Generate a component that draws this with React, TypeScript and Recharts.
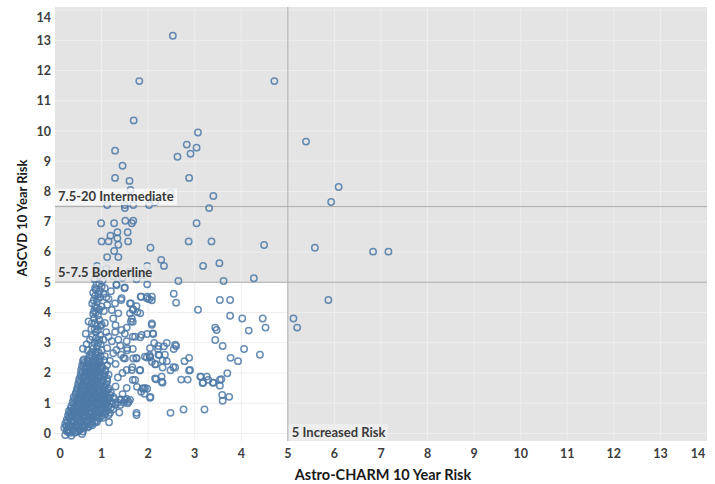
import React from "react";
import {
  ScatterChart, Scatter, XAxis, YAxis, ReferenceArea, ReferenceLine, Label,
} from "recharts";

const xTicks = [0, 1, 2, 3, 4, 5, 6, 7, 8, 9, 10, 11, 12, 13, 14];
const yTicks = [0, 1, 2, 3, 4, 5, 6, 7, 8, 9, 10, 11, 12, 13, 14];

// risk zone thresholds
const borderlineY = 5;
const intermediateY = 7.5;
const increasedX = 5;
const zoneLabelText = ["7.5-20 Intermediate", "5-7.5 Borderline", "5 Increased Risk"];

// [astroCharm, ascvd]
const intermediatePoints = [
  [2.53, 13.15], [1.81, 11.65], [4.71, 11.65], [1.69, 10.35], [3.07, 9.95], [5.39, 9.65],
  [2.83, 9.55], [3.04, 9.45], [1.29, 9.35], [2.91, 9.25], [2.63, 9.15], [1.45, 8.85],
  [1.29, 8.45], [2.88, 8.45], [1.6, 8.35], [6.09, 8.15], [1.62, 8.05], [2.48, 7.95],
  [3.4, 7.85], [5.93, 7.65], [1.12, 7.55], [2.02, 7.55], [1.5, 7.55], [1.5, 7.45],
  [1.68, 7.55], [2.15, 7.65], [3.31, 7.45],
];

const borderlinePoints = [
  [0.99, 6.95], [1.27, 6.95], [1.51, 7.03], [1.68, 7.03], [1.65, 6.95], [3.04, 6.95],
  [1.34, 6.65], [1.56, 6.65], [1.19, 6.54], [1.0, 6.35], [1.15, 6.35], [1.34, 6.45],
  [1.57, 6.35], [2.87, 6.35], [3.36, 6.35], [1.36, 6.24], [2.05, 6.14], [4.49, 6.23],
  [5.58, 6.14], [6.83, 6.01], [7.16, 6.01], [1.27, 6.03], [1.12, 5.83], [1.36, 5.83],
  [2.28, 5.74], [2.34, 5.54], [3.18, 5.54], [3.53, 5.63], [0.9, 5.54], [1.98, 5.54],
  [4.27, 5.13], [2.65, 5.04], [3.62, 5.04], [0.92, 5.3], [1.1, 5.45], [1.25, 5.2],
  [1.45, 5.15], [1.6, 5.35], [1.75, 5.1], [1.9, 5.25], [0.85, 5.1], [1.02, 5.05],
];

const increasedPoints = [[5.12, 3.8], [5.2, 3.5], [5.87, 4.41]];

const spreadPoints = [
  [1.32, 4.93], [1.5, 4.83], [1.98, 4.93], [1.84, 4.52], [1.98, 4.52], [2.02, 4.44],
  [2.08, 4.4], [1.42, 4.41], [1.63, 4.3], [1.75, 4.21], [1.67, 4.09], [1.77, 4.01],
  [2.55, 4.62], [2.6, 4.32], [3.54, 4.41], [3.76, 4.41], [3.07, 4.09], [3.76, 3.89],
  [4.02, 3.8], [4.46, 3.8], [4.52, 3.5], [3.44, 3.5], [3.47, 3.42], [4.16, 3.4],
  [3.44, 3.09], [3.6, 2.89], [4.06, 2.79], [4.4, 2.6], [3.77, 2.5], [3.93, 2.39],
  [3.7, 1.99], [3.12, 1.88], [3.26, 1.88], [3.29, 1.77], [3.54, 1.77], [3.4, 1.68],
  [3.17, 1.67], [3.54, 1.58], [3.59, 1.27], [3.74, 1.21], [3.6, 1.08], [2.71, 1.78],
  [2.85, 1.78], [2.88, 2.08], [2.78, 2.39], [2.88, 2.5], [2.54, 2.19], [2.48, 2.09],
  [2.4, 2.39], [2.16, 2.29], [2.24, 2.59], [2.03, 2.59], [2.04, 2.51], [2.21, 2.79],
  [2.34, 2.88], [2.4, 2.99], [2.55, 2.79], [2.6, 2.89], [2.11, 3.29], [2.08, 3.59],
  [2.13, 2.99], [1.83, 3.18], [1.98, 3.29], [1.65, 3.79], [1.63, 3.7], [1.67, 3.69],
  [1.54, 3.5], [1.67, 3.2], [1.67, 2.79], [1.75, 2.5], [1.97, 2.51], [1.66, 2.19],
  [1.82, 2.08], [1.67, 1.77], [1.76, 1.54], [1.9, 1.48], [1.85, 1.38], [2.05, 1.21],
  [1.92, 1.31], [1.98, 1.48], [2.48, 0.68], [2.76, 0.79], [3.21, 0.79], [1.75, 0.68],
  [1.56, 1.0], [1.38, 0.69], [1.16, 0.37], [2.17, 1.79], [2.31, 1.68], [2.29, 1.88],
  [3.13, 1.88], [3.18, 1.68], [3.39, 1.68], [3.57, 1.79], [1.88, 1.49], [2.04, 1.18],
  [2.1, 3.31], [2.58, 2.93], [2.22, 2.89], [2.04, 2.82], [2.04, 2.54], [2.22, 2.6],
  [2.36, 2.6], [2.15, 2.29], [2.31, 2.18], [2.31, 2.41], [2.58, 2.18], [2.9, 2.1],
  [1.5, 2.48], [1.75, 2.48], [2.08, 2.37], [2.15, 1.82], [2.29, 1.71], [1.54, 2.1],
  [1.65, 2.1], [1.83, 2.1], [1.72, 1.77], [1.93, 1.5], [1.54, 1.5], [1.4, 1.11],
  [1.5, 1.11], [1.61, 1.11], [1.4, 0.94], [1.75, 0.61], [1.15, 0.61], [1.45, 1.3],
  [1.3, 1.55], [1.35, 1.85], [1.45, 2.0], [1.3, 2.3], [1.42, 2.6], [1.55, 2.75], [1.4, 2.9],
];

const columnPoints = [
  [0.89, 4.91], [1.0, 4.85], [1.07, 4.8], [1.32, 4.9], [1.49, 4.8], [0.82, 4.65],
  [0.86, 4.55], [0.93, 4.6], [0.97, 4.5], [1.04, 4.62], [1.1, 4.5], [1.15, 4.45],
  [1.43, 4.47], [1.61, 4.3], [1.85, 4.52], [1.97, 4.47], [2.08, 4.52], [0.8, 4.3],
  [0.86, 4.2], [0.9, 4.35], [0.95, 4.1], [1.0, 4.2], [1.05, 4.05], [1.22, 4.08],
  [1.29, 4.3], [1.36, 3.97], [1.61, 3.97], [1.68, 4.1], [1.83, 3.97], [0.72, 3.7],
  [0.79, 3.64], [0.84, 3.8], [0.9, 3.55], [0.95, 3.75], [1.0, 3.6], [1.07, 3.65],
  [1.25, 3.8], [1.3, 3.58], [2.08, 3.64], [0.66, 3.3], [0.75, 3.1], [0.8, 3.2],
  [0.88, 3.35], [0.93, 3.0], [0.97, 3.25], [1.04, 3.1], [1.1, 3.35], [1.15, 3.2],
  [1.22, 3.05], [1.29, 3.35], [1.36, 3.1], [1.43, 3.42], [1.5, 3.3], [1.54, 3.05],
  [1.72, 3.2], [1.86, 3.26], [0.6, 2.8], [0.7, 2.75], [0.75, 2.6], [0.82, 2.8],
  [0.86, 2.5], [0.9, 2.7], [0.95, 2.45], [1.0, 2.75], [1.07, 2.55], [1.12, 2.82],
  [1.18, 2.4], [1.25, 2.65], [1.32, 2.76], [1.47, 2.5], [1.55, 2.82], [1.68, 2.48],
  [1.93, 2.54], [0.62, 2.45], [0.7, 2.38], [0.88, 4.75], [0.95, 4.95], [0.83, 4.4],
  [0.92, 3.9], [0.78, 3.45], [0.85, 3.0], [0.98, 2.95], [0.68, 2.95], [1.2, 4.7],
  [1.12, 4.25], [0.88, 4.0], [0.72, 2.5], [0.8, 2.55], [0.9, 2.58], [0.98, 2.55],
  [0.78, 2.68], [0.86, 2.65], [0.94, 2.68], [0.8, 2.9], [0.9, 2.88], [0.95, 3.1],
  [0.88, 3.15], [0.85, 3.45], [0.92, 3.42], [0.98, 3.55], [0.86, 3.65], [0.82, 3.95],
  [0.9, 4.15], [0.84, 4.05], [0.92, 4.45], [0.86, 4.8], [0.96, 4.7],
];

const clusterPoints = [
  [0.22, -0.05], [0.28, 0.05], [0.35, -0.08], [0.42, 0.02], [0.5, 0.08], [0.58, -0.02], [0.3, 0.1],
  [0.2, 0.18], [0.27, 0.12], [0.33, 0.2], [0.4, 0.15], [0.47, 0.22], [0.55, 0.14], [0.62, 0.18], [0.7, 0.2],
  [0.22, 0.32], [0.3, 0.28], [0.37, 0.35], [0.45, 0.3], [0.52, 0.34], [0.6, 0.27], [0.68, 0.33], [0.76, 0.3], [0.85, 0.35],
  [0.25, 0.45], [0.32, 0.5], [0.4, 0.42], [0.48, 0.48], [0.55, 0.44], [0.63, 0.5], [0.7, 0.45], [0.78, 0.48], [0.88, 0.43], [0.95, 0.5],
  [0.28, 0.6], [0.36, 0.62], [0.44, 0.58], [0.52, 0.64], [0.6, 0.6], [0.68, 0.57], [0.75, 0.63], [0.83, 0.6], [0.9, 0.62], [1.0, 0.58], [1.08, 0.64],
  [0.3, 0.74], [0.38, 0.78], [0.46, 0.72], [0.54, 0.77], [0.62, 0.75], [0.7, 0.8], [0.78, 0.73], [0.86, 0.77], [0.94, 0.74], [1.02, 0.78], [1.12, 0.75], [1.25, 0.8],
  [0.35, 0.9], [0.43, 0.88], [0.5, 0.93], [0.58, 0.89], [0.66, 0.92], [0.74, 0.87], [0.82, 0.91], [0.9, 0.94], [0.98, 0.88], [1.06, 0.92], [1.15, 0.9], [1.3, 0.95],
  [0.38, 1.04], [0.46, 1.08], [0.55, 1.02], [0.63, 1.06], [0.71, 1.03], [0.8, 1.07], [0.88, 1.05], [0.96, 1.02], [1.04, 1.08], [1.12, 1.04], [1.2, 1.06], [1.48, 1.02], [1.58, 1.05],
  [0.4, 1.2], [0.5, 1.17], [0.58, 1.22], [0.66, 1.19], [0.74, 1.23], [0.82, 1.18], [0.9, 1.21], [0.98, 1.17], [1.06, 1.22], [1.15, 1.19], [1.25, 1.21],
  [0.45, 1.35], [0.53, 1.32], [0.62, 1.37], [0.7, 1.34], [0.78, 1.38], [0.86, 1.33], [0.94, 1.36], [1.02, 1.32], [1.1, 1.37], [1.2, 1.35],
  [0.48, 1.5], [0.56, 1.53], [0.65, 1.48], [0.73, 1.52], [0.8, 1.49], [0.88, 1.53], [0.96, 1.47], [1.05, 1.51], [1.15, 1.49],
  [0.5, 1.65], [0.6, 1.62], [0.68, 1.67], [0.76, 1.64], [0.84, 1.66], [0.92, 1.62], [1.0, 1.67], [1.1, 1.64],
  [0.52, 1.8], [0.6, 1.83], [0.7, 1.78], [0.78, 1.82], [0.86, 1.79], [0.94, 1.83], [1.02, 1.78], [1.12, 1.81],
  [0.55, 1.95], [0.64, 1.92], [0.72, 1.97], [0.8, 1.94], [0.88, 1.96], [0.96, 1.93], [1.05, 1.97], [1.15, 1.94],
  [0.56, 2.1], [0.65, 2.12], [0.74, 2.08], [0.82, 2.11], [0.9, 2.09], [0.98, 2.13], [1.08, 2.1],
  [0.58, 2.25], [0.68, 2.23], [0.76, 2.27], [0.84, 2.24], [0.92, 2.26], [1.0, 2.22], [1.12, 2.26],
  [0.6, 2.4], [0.7, 2.42], [0.8, 2.38], [0.88, 2.41], [0.96, 2.39], [1.05, 2.42],
];

const clusterFillPoints = [
  [0.25, 0.08], [0.32, 0.02], [0.38, 0.1], [0.45, 0.05], [0.53, 0.12], [0.6, 0.06],
  [0.24, 0.24], [0.3, 0.22], [0.37, 0.26], [0.44, 0.22], [0.5, 0.27], [0.58, 0.23], [0.65, 0.26], [0.73, 0.24], [0.8, 0.27],
  [0.26, 0.38], [0.34, 0.4], [0.41, 0.37], [0.49, 0.4], [0.56, 0.38], [0.64, 0.41], [0.72, 0.38], [0.8, 0.4], [0.9, 0.38],
  [0.3, 0.53], [0.37, 0.55], [0.45, 0.52], [0.52, 0.55], [0.6, 0.52], [0.67, 0.55], [0.74, 0.52], [0.82, 0.55], [0.92, 0.54], [1.03, 0.52],
  [0.32, 0.68], [0.4, 0.7], [0.48, 0.67], [0.56, 0.7], [0.64, 0.68], [0.72, 0.7], [0.8, 0.67], [0.88, 0.7], [0.97, 0.68], [1.06, 0.7], [1.18, 0.68],
  [0.34, 0.83], [0.42, 0.85], [0.5, 0.82], [0.58, 0.85], [0.66, 0.83], [0.74, 0.84], [0.82, 0.82], [0.9, 0.85], [0.98, 0.82], [1.08, 0.84], [1.2, 0.85],
  [0.4, 0.98], [0.48, 1.0], [0.55, 0.97], [0.62, 1.0], [0.7, 0.97], [0.78, 1.0], [0.86, 0.98], [0.94, 1.0], [1.02, 0.97], [1.1, 1.0], [1.22, 0.98], [1.35, 1.02],
  [0.42, 1.13], [0.5, 1.1], [0.58, 1.14], [0.66, 1.12], [0.74, 1.14], [0.82, 1.11], [0.9, 1.14], [0.98, 1.12], [1.06, 1.14], [1.15, 1.12], [1.28, 1.14], [1.42, 1.12], [1.54, 1.14],
  [0.44, 1.28], [0.52, 1.26], [0.6, 1.29], [0.68, 1.27], [0.76, 1.3], [0.84, 1.27], [0.92, 1.29], [1.0, 1.26], [1.08, 1.29], [1.18, 1.27],
  [0.47, 1.43], [0.56, 1.42], [0.64, 1.44], [0.72, 1.41], [0.8, 1.44], [0.88, 1.42], [0.96, 1.44], [1.04, 1.42], [1.13, 1.44],
  [0.5, 1.58], [0.58, 1.57], [0.66, 1.59], [0.74, 1.57], [0.82, 1.59], [0.9, 1.57], [0.98, 1.59], [1.08, 1.57],
  [0.53, 1.73], [0.62, 1.72], [0.7, 1.74], [0.78, 1.72], [0.86, 1.74], [0.94, 1.72], [1.02, 1.74], [1.12, 1.72],
  [0.56, 1.88], [0.64, 1.87], [0.72, 1.89], [0.8, 1.87], [0.88, 1.89], [0.96, 1.87], [1.06, 1.89],
  [0.58, 2.03], [0.66, 2.02], [0.74, 2.04], [0.82, 2.02], [0.9, 2.04], [0.98, 2.02], [1.08, 2.04],
  [0.6, 2.18], [0.68, 2.17], [0.76, 2.19], [0.84, 2.17], [0.92, 2.19], [1.02, 2.17],
  [0.62, 2.33], [0.72, 2.32], [0.8, 2.34], [0.88, 2.32], [0.96, 2.34],
];

const allPoints = [
  ...clusterPoints, ...clusterFillPoints, ...columnPoints, ...spreadPoints,
  ...increasedPoints, ...borderlinePoints, ...intermediatePoints,
].map(([x, y]) => ({ x, y }));

// zone label anchors sit on the threshold lines
const zoneLabels = [
  { x: 0, y: intermediateY, text: zoneLabelText[0], w: 122, bg: "rgba(250,250,250,0.8)", pos: "above" },
  { x: 0, y: borderlineY, text: zoneLabelText[1], w: 99, bg: "rgba(232,232,232,0.82)", pos: "above" },
  { x: increasedX, y: -0.25, text: zoneLabelText[2], w: 99, bg: "rgba(238,238,238,0.92)", pos: "right" },
];

const FONT = "Lato, 'Open Sans', sans-serif";
const TICK_FILL = "#3d3d3d";
const LINE_COLOR = "#aaaaaa";
const GRID_COLOR = "#eeeeee";

const XTick = ({ x, y, payload }: any) => {
  const v = payload.value;
  const shift = v === 0 ? 5 : v === 14 ? -9 : 0;
  return (
    <text x={x + shift} y={y} dy={13} textAnchor="middle" fill={TICK_FILL}
      fontFamily={FONT} fontSize={12.5} fontWeight={700}>{v}</text>
  );
};

const YTick = ({ x, y, payload }: any) => {
  const v = payload.value;
  const shift = v === 14 ? 7 : 0;
  return (
    <text x={x} y={y + shift} dy={4.5} textAnchor="end" fill={TICK_FILL}
      fontFamily={FONT} fontSize={12.5} fontWeight={700}>{v}</text>
  );
};

const dot = (p: any) => (
  <circle cx={p.cx} cy={p.cy} r={3.2} fill="none" stroke="#4e79a7"
    strokeWidth={1.5} strokeOpacity={0.85} />
);

const zoneLabelShape = (p: any) => {
  const d = p.payload;
  const left = d.pos === "above" ? p.cx : p.cx + 1;
  const top = d.pos === "above" ? p.cy - 18 : p.cy - 17;
  return (
    <g>
      <rect x={left} y={top} width={d.w} height={16.5} fill={d.bg} />
      <text x={left + 3} y={top + 12.5} fill="#3a3a3a" fontFamily={FONT}
        fontSize={13} fontWeight={700}>{d.text}</text>
    </g>
  );
};

export default function App() {
  return (
    <div style={{ position: "absolute", left: 0, top: 0, background: "#fff" }}>
      <ScatterChart width={715} height={484} margin={{ top: 7, right: 8, bottom: 0, left: 0 }}>
        <XAxis type="number" dataKey="x" domain={[0, 14]} ticks={xTicks} interval={0}
          axisLine={false} tickLine={false} tickSize={0} tickMargin={4} height={43}
          tick={<XTick />}>
          <Label content={({ viewBox }: any) => (
            <text x={viewBox.x + viewBox.width / 2 + 2} y={viewBox.y + viewBox.height - 4}
              textAnchor="middle" fill="#1a1a1a" fontFamily={FONT} fontSize={14.5}
              fontWeight={700}>Astro-CHARM 10 Year Risk</text>
          )} />
        </XAxis>
        <YAxis type="number" dataKey="y" domain={[-0.25, 14.1]} ticks={yTicks} interval={0}
          axisLine={false} tickLine={false} tickSize={0} tickMargin={4} width={55}
          tick={<YTick />}>
          <Label content={({ viewBox }: any) => {
            const cx = 27;
            const cy = viewBox.y + viewBox.height / 2 - 6;
            return (
              <text x={cx} y={cy} transform={`rotate(-90, ${cx}, ${cy})`} textAnchor="middle"
                fill="#1a1a1a" fontFamily={FONT} fontSize={13} fontWeight={700}>
                ASCVD 10 Year Risk
              </text>
            );
          }} />
        </YAxis>

        <ReferenceArea x1={0} x2={14} y1={-0.25} y2={14.1} fill="#e4e4e4" fillOpacity={1} stroke="none" />
        <ReferenceArea x1={0} x2={increasedX} y1={-0.25} y2={borderlineY} fill="#ffffff" fillOpacity={1} stroke="none" />
        {xTicks.slice(1, -1).map((t) => (
          <ReferenceLine key={`gx${t}`} x={t} stroke={GRID_COLOR} strokeWidth={1} />
        ))}
        {yTicks.map((t) => (
          <ReferenceLine key={`gy${t}`} y={t} stroke={GRID_COLOR} strokeWidth={1} />
        ))}
        <ReferenceLine x={increasedX} stroke={LINE_COLOR} strokeWidth={1} />
        <ReferenceLine y={borderlineY} stroke={LINE_COLOR} strokeWidth={1} />
        <ReferenceLine y={intermediateY} stroke={LINE_COLOR} strokeWidth={1} />

        <Scatter data={allPoints} shape={dot} isAnimationActive={false} />
        <Scatter data={zoneLabels} shape={zoneLabelShape} isAnimationActive={false} />
      </ScatterChart>
    </div>
  );
}
